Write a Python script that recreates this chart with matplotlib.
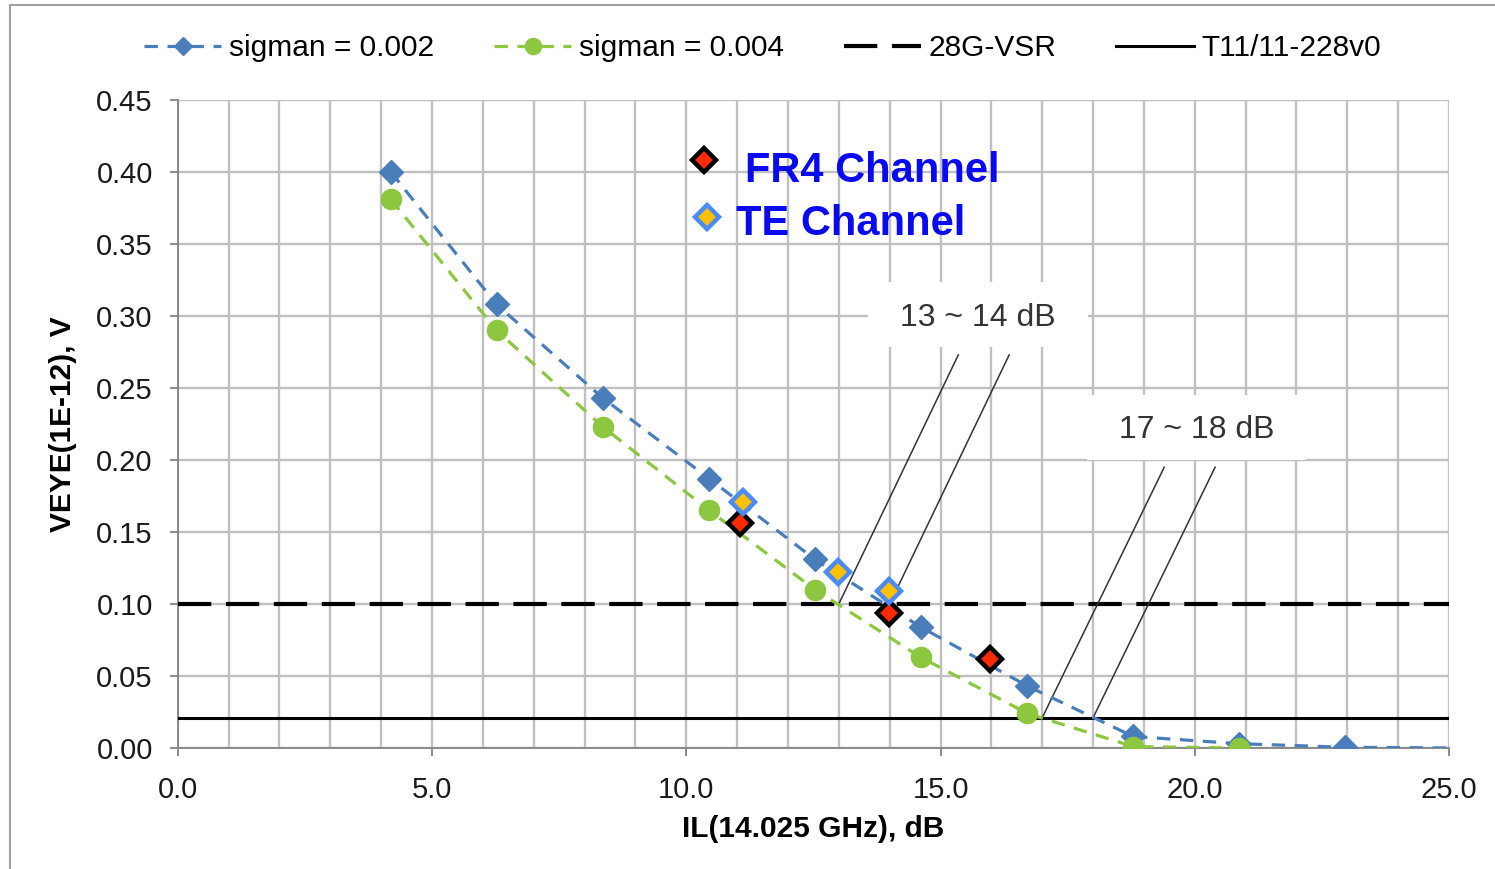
import numpy as np
import matplotlib.pyplot as plt
from matplotlib.patches import Rectangle
from matplotlib.lines import Line2D
from matplotlib.ticker import FormatStrFormatter, MultipleLocator

plt.rcParams['font.family'] = ['Liberation Sans', 'DejaVu Sans']

# Simulated eye height vs. channel insertion loss
il_002 = [4.19, 6.27, 8.36, 10.45, 12.53, 14.61, 16.71, 18.79, 20.87, 22.96, 25.05]
veye_002 = [0.400, 0.308, 0.243, 0.187, 0.131, 0.084, 0.043, 0.008, 0.003, 0.0005, 0.0]

il_004 = [4.19, 6.27, 8.36, 10.45, 12.53, 14.61, 16.71, 18.79, 20.87]
veye_004 = [0.381, 0.290, 0.223, 0.165, 0.110, 0.063, 0.024, 0.001, 0.0]

# Measured channels
fr4_il = [11.05, 13.99, 15.98]
fr4_veye = [0.156, 0.094, 0.062]
te_il = [11.11, 12.98, 13.98]
te_veye = [0.171, 0.122, 0.109]

# Specification limits
vsr_limit = 0.10
t11_limit = 0.021

# Leader lines for the IL range callouts: (x0, y0, x1, y1)
range_13_14 = [(13.0, 0.10, 15.35, 0.273), (14.0, 0.10, 16.35, 0.273)]
range_17_18 = [(17.0, 0.021, 19.4, 0.195), (18.0, 0.021, 20.4, 0.195)]

BLUE = '#4A7EBB'
GREEN = '#8DC63F'

fig = plt.figure(figsize=(14.95, 8.69), dpi=100)
ax = fig.add_axes([177.8 / 1495, 1 - 748 / 869, (1449 - 177.8) / 1495, (748 - 100) / 869])

ax.set_xlim(0, 25)
ax.set_ylim(0, 0.45)

ax.xaxis.set_major_locator(MultipleLocator(5))
ax.xaxis.set_minor_locator(MultipleLocator(1))
ax.yaxis.set_major_locator(MultipleLocator(0.05))
ax.xaxis.set_major_formatter(FormatStrFormatter('%.1f'))
ax.yaxis.set_major_formatter(FormatStrFormatter('%.2f'))

ax.set_axisbelow(True)
ax.grid(which='both', axis='x', color='#c0c0c0', lw=1.7)
ax.grid(which='major', axis='y', color='#c0c0c0', lw=1.7)

for s in ['top', 'right']:
    ax.spines[s].set_visible(False)
for s in ['left', 'bottom']:
    ax.spines[s].set_color('#8a8a8a')
    ax.spines[s].set_linewidth(1.4)

ax.tick_params(axis='both', which='major', direction='out', length=6, width=1.4,
               color='#8a8a8a', labelsize=21, labelcolor='#1a1a1a')
ax.tick_params(axis='y', pad=12)
ax.tick_params(axis='x', pad=14)
ax.tick_params(axis='x', which='minor', length=0)

# Callout boxes that mask the grid behind the range labels
ax.add_patch(Rectangle((13.58, 0.2787), 17.90 - 13.58, 0.3238 - 0.2787,
                       facecolor='white', edgecolor='none', zorder=1))
ax.add_patch(Rectangle((17.88, 0.200), 22.18 - 17.88, 0.245 - 0.200,
                       facecolor='white', edgecolor='none', zorder=1))
ax.text(15.74, 0.2985, '13 ~ 14 dB', fontsize=23, color='#333333',
        ha='center', va='center', zorder=2)
ax.text(20.03, 0.2205, '17 ~ 18 dB', fontsize=23, color='#333333',
        ha='center', va='center', zorder=2)

# Spec limits
l_vsr = ax.axhline(vsr_limit, color='black', lw=3, dashes=(8, 3.5), zorder=3,
                   label='28G-VSR')
l_t11 = ax.axhline(t11_limit, color='black', lw=2.2, zorder=3,
                   label='T11/11-228v0')

for x0, y0, x1, y1 in range_13_14 + range_17_18:
    ax.plot([x0, x1], [y0, y1], color='#333333', lw=1.1, zorder=3)

# Simulation curves
l_002, = ax.plot(il_002, veye_002, color=BLUE, lw=2.3, dashes=(4.2, 3.0),
                 marker='D', ms=12, mfc=BLUE, mec=BLUE,
                 markevery=list(range(len(il_002) - 1)),
                 label='sigman = 0.002', zorder=4)
l_004, = ax.plot(il_004, veye_004, color=GREEN, lw=2.3, dashes=(4.2, 3.0),
                 marker='o', ms=14.5, mfc=GREEN, mec=GREEN,
                 label='sigman = 0.004', zorder=4)

# Measured channels
ax.plot(fr4_il, fr4_veye, ls='none', marker='D', ms=12, mfc='#FF2A00',
        mec='black', mew=3.2, zorder=6)
ax.plot(te_il, te_veye, ls='none', marker='D', ms=12, mfc='#FFC000',
        mec='#4A8BF5', mew=3.2, zorder=6)

# In-plot key for the measured channels
ax.plot([10.35], [0.408], ls='none', marker='D', ms=12, mfc='#FF2A00',
        mec='black', mew=3.2, zorder=6, clip_on=False)
ax.plot([10.41], [0.369], ls='none', marker='D', ms=12, mfc='#FFC000',
        mec='#4A8BF5', mew=3.2, zorder=6, clip_on=False)
ax.text(11.16, 0.4005, 'FR4 Channel', fontsize=30, fontweight='bold',
        color='#0A0AF0', ha='left', va='center', zorder=6)
ax.text(10.98, 0.3640, 'TE Channel', fontsize=30, fontweight='bold',
        color='#0A0AF0', ha='left', va='center', zorder=6)

ax.set_xlabel('IL(14.025 GHz), dB', fontsize=21.5, fontweight='bold', labelpad=8)
ax.set_ylabel('VEYE(1E-12), V', fontsize=21.5, fontweight='bold', labelpad=14)

fig.legend(handles=[l_002, l_004, l_vsr, l_t11], loc='center',
           bbox_to_anchor=(0.510, 1 - 48 / 869), ncol=4, frameon=False,
           fontsize=21.5, handlelength=2.6, columnspacing=2.0,
           handletextpad=0.25, markerscale=0.8)

# Outer chart border
fig.add_artist(Line2D([10 / 1495, 10 / 1495], [0, 1 - 5 / 869],
                      color='#a0a0a0', lw=1.5, transform=fig.transFigure))
fig.add_artist(Line2D([10 / 1495, 1], [1 - 5 / 869, 1 - 5 / 869],
                      color='#a0a0a0', lw=1.5, transform=fig.transFigure))

fig.savefig('out.png', dpi=100)
